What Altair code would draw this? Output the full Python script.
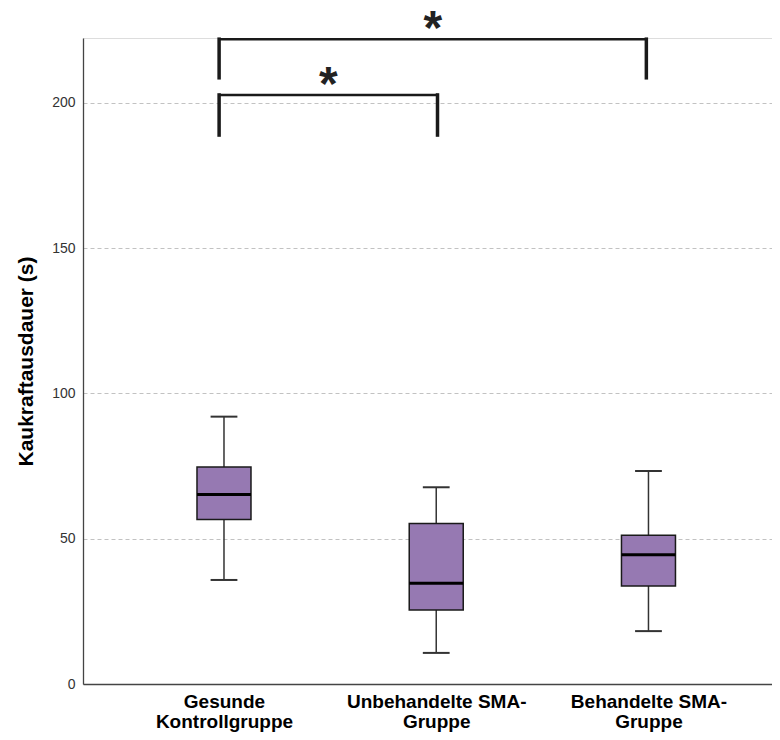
import json
import altair as alt
import pandas as pd

# ---- data ----
groups = ["Gesunde Kontrollgruppe", "Unbehandelte SMA-Gruppe", "Behandelte SMA-Gruppe"]
label_lines = [["Gesunde", "Kontrollgruppe"], ["Unbehandelte SMA-", "Gruppe"], ["Behandelte SMA-", "Gruppe"]]
whisker_low = [35.8, 10.7, 18.2]
q1 = [56.6, 25.5, 33.7]
median = [65.2, 34.7, 44.5]
q3 = [74.7, 55.2, 51.2]
whisker_high = [92.0, 67.7, 73.3]
y_ticks = [0, 50, 100, 150, 200]

# significance brackets (x in group-position units, y in seconds)
bracket_x1 = [0.977, 0.977]
bracket_x2 = [2.006, 2.99]
bracket_top = [202.7, 221.9]
bracket_bottom = [188.9, 208.6]
bracket_label = ["*", "*"]

# ---- styling constants ----
FONT = "Liberation Sans"
BOX_FILL = "#9679b2"
PLOT_W = 689
PLOT_H = 646
PX_PER_UNIT = 212.24           # x scale: pixels per group step
X_LO = 0.3357
X_HI = X_LO + PLOT_W / PX_PER_UNIT
BOX_HALF = 27 / PX_PER_UNIT
CAP_HALF = 13.4 / PX_PER_UNIT

box = pd.DataFrame({
    "group": groups,
    "pos": list(range(1, len(groups) + 1)),
    "lo": whisker_low, "q1": q1, "med": median, "q3": q3, "hi": whisker_high,
})
br = pd.DataFrame({"x1": bracket_x1, "x2": bracket_x2, "top": bracket_top,
                   "bottom": bracket_bottom, "lab": bracket_label})

label_expr = ""
for i, lines in enumerate(label_lines):
    label_expr += f"datum.value == {i + 1} ? {json.dumps(lines)} : "
label_expr += "''"

xscale = alt.Scale(domain=[X_LO, X_HI], nice=False, zero=False)
yscale = alt.Scale(domain=[0, 222.3], nice=False, zero=True)

x_axis = alt.Axis(values=[1, 2, 3], labelExpr=label_expr, title=None, grid=False,
                  ticks=False, tickSize=0, labelFont=FONT, labelFontSize=19,
                  labelFontWeight="bold", labelColor="#000000", labelLineHeight=20,
                  labelPadding=8, labelFlush=False, labelOverlap=False, labelLimit=0,
                  domainColor="#444444", domainWidth=1.3)
y_axis = alt.Axis(values=y_ticks, title="Kaukraftausdauer (s)", grid=True,
                  gridDash=[4, 3], gridColor="#c2c2c2", gridWidth=1,
                  ticks=False, tickSize=0, labelFont=FONT, labelFontSize=14,
                  labelColor="#333333", labelPadding=8,
                  domainColor="#444444", domainWidth=1.3,
                  titleFont=FONT, titleFontSize=21, titleFontWeight="bold",
                  titleColor="#000000", titleAngle=270, titleX=-51, titleY=PLOT_H / 2,
                  titleAlign="center", titleBaseline="alphabetic")

base = alt.Chart(box)

whisker = base.mark_rule(color="#333333", strokeWidth=1.5).encode(
    x=alt.X("pos:Q", scale=xscale, axis=x_axis),
    y=alt.Y("lo:Q", scale=yscale, axis=y_axis),
    y2="hi:Q",
)

caps_lo = base.transform_calculate(a=f"datum.pos - {CAP_HALF}", b=f"datum.pos + {CAP_HALF}").mark_rule(
    color="#333333", strokeWidth=2).encode(x="a:Q", x2="b:Q", y="lo:Q")
caps_hi = base.transform_calculate(a=f"datum.pos - {CAP_HALF}", b=f"datum.pos + {CAP_HALF}").mark_rule(
    color="#333333", strokeWidth=2).encode(x="a:Q", x2="b:Q", y="hi:Q")

boxes = base.transform_calculate(a=f"datum.pos - {BOX_HALF}", b=f"datum.pos + {BOX_HALF}").mark_rect(
    fill=BOX_FILL, stroke="#1a1a1a", strokeWidth=1.5).encode(
    x="a:Q", x2="b:Q", y="q1:Q", y2="q3:Q")

medians = base.transform_calculate(a=f"datum.pos - {BOX_HALF}", b=f"datum.pos + {BOX_HALF}").mark_rule(
    color="#000000", strokeWidth=3).encode(x="a:Q", x2="b:Q", y="med:Q")

bb = alt.Chart(br)
br_h = bb.mark_rule(color="#1a1a1a", strokeWidth=2.5).encode(x="x1:Q", x2="x2:Q", y="top:Q")
br_l = bb.mark_rule(color="#1a1a1a", strokeWidth=3.5, strokeCap="square").encode(
    x="x1:Q", y="bottom:Q", y2="top:Q")
br_r = bb.mark_rule(color="#1a1a1a", strokeWidth=3.5, strokeCap="square").encode(
    x="x2:Q", y="bottom:Q", y2="top:Q")
stars = bb.transform_calculate(mid="(datum.x1 + datum.x2) / 2").mark_text(
    font=FONT, fontSize=48, fontWeight="bold", color="#222222",
    baseline="alphabetic", align="center", dy=5).encode(
    x="mid:Q", y="top:Q", text="lab:N")

chart = alt.layer(whisker, caps_lo, caps_hi, boxes, medians, br_h, br_l, br_r, stars).properties(
    width=PLOT_W, height=PLOT_H,
    autosize=alt.AutoSizeParams(type="none"),
    padding={"left": 75, "top": 30, "right": 0, "bottom": 48},
).configure_view(stroke=None).configure(background="white")

chart.save("out.html", embed_options={"renderer": "svg", "actions": False})
